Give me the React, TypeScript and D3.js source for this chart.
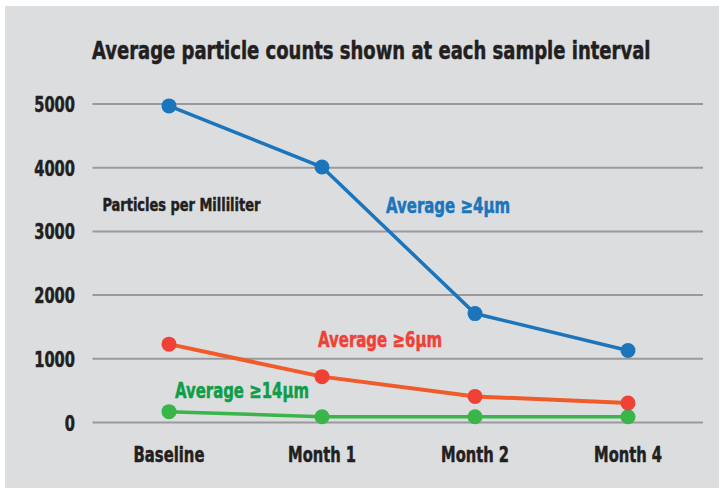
import React, { useEffect, useRef } from "react";
import { select, scalePoint, scaleLinear, line } from "d3";

const categories = ["Baseline", "Month 1", "Month 2", "Month 4"];
const avg4um = [4970, 4010, 1710, 1130];
const avg6um = [1230, 720, 410, 305];
const avg14um = [170, 90, 90, 90];
const yTicks = [0, 1000, 2000, 3000, 4000, 5000];

const W = 724;
const H = 493;
const FONT = "'DejaVu Sans Condensed', 'DejaVu Sans', sans-serif";
const INK = "#231f20";

function ParticleChart() {
  const svgRef = useRef<SVGSVGElement>(null);

  useEffect(() => {
    const root = select(svgRef.current);
    root.selectAll("*").remove();

    root
      .append("rect")
      .attr("x", 5)
      .attr("y", 6)
      .attr("width", 714)
      .attr("height", 482)
      .attr("fill", "#dcdddf");

    const x = scalePoint<string>().domain(categories).range([92.5, 704.5]).padding(0.5);
    const y = scaleLinear().domain([0, 5000]).range([422.5, 104]);

    // no condensed bold font installed: draw DejaVu Condensed and squeeze it
    // horizontally to the width the original text takes
    const label = (
      parent: any,
      str: string,
      px: number,
      py: number,
      size: number,
      len: number,
      color: string,
      anchor = "start"
    ) => {
      const t = parent
        .append("text")
        .attr("text-anchor", anchor)
        .attr("fill", color)
        .attr("stroke", color)
        .attr("stroke-width", 0.5)
        .style("font-family", FONT)
        .style("font-weight", "bold")
        .style("font-size", size + "px")
        .text(str);
      const natural = (t.node() as SVGTextElement).getComputedTextLength() || len;
      t.attr("transform", `translate(${px},${py}) scale(${len / natural},1)`);
      return t;
    };

    label(root, "Average particle counts shown at each sample interval", 92, 59, 25.5, 559, INK);

    // gridlines + y labels
    const grid = root.append("g");
    grid
      .selectAll("line")
      .data(yTicks)
      .join("line")
      .attr("x1", 92.5)
      .attr("x2", 703)
      .attr("y1", (d) => y(d))
      .attr("y2", (d) => y(d))
      .attr("stroke", "#9a9a9c")
      .attr("stroke-width", 2);
    yTicks.forEach((d) =>
      label(grid, String(d), 75, y(d) + 8, 21, String(d).length * 10.2, INK, "end")
    );

    // x labels
    const xg = root.append("g");
    categories.forEach((c) =>
      label(xg, c, x(c) as number, 462, 21.5, c === "Baseline" ? 71 : 68, INK, "middle")
    );

    label(root, "Particles per Milliliter", 102.5, 211, 17.5, 158, INK);

    const series = [
      { values: avg14um, line: "#39b54a", dot: "#39b54a", label: "Average ≥14μm", labelColor: "#0e9d48", lx: 175, ly: 398, len: 134, w: 3.5 },
      { values: avg6um, line: "#f15a29", dot: "#ef4136", label: "Average ≥6μm", labelColor: "#ef4136", lx: 318, ly: 347, len: 124, w: 4 },
      { values: avg4um, line: "#1b75bc", dot: "#1b75bc", label: "Average ≥4μm", labelColor: "#1b75bc", lx: 386, ly: 213, len: 124, w: 3.5 },
    ];

    const path = line<number>()
      .x((_, i) => x(categories[i]) as number)
      .y((d) => y(d));

    series.forEach((s) => {
      const g = root.append("g");
      g.append("path")
        .datum(s.values)
        .attr("fill", "none")
        .attr("stroke", s.line)
        .attr("stroke-width", s.w)
        .attr("d", path);
      g.selectAll("circle")
        .data(s.values)
        .join("circle")
        .attr("cx", (_, i) => x(categories[i]) as number)
        .attr("cy", (d) => y(d))
        .attr("r", 7.5)
        .attr("fill", s.dot);
      label(g, s.label, s.lx, s.ly, 21.5, s.len, s.labelColor);
    });
  }, []);

  return <svg width={W} height={H} ref={svgRef} style={{ display: "block" }}></svg>;
}

export default function App() {
  return (
    <div style={{ position: "fixed", left: 0, top: 0, width: W, height: H, background: "#fff" }}>
      <ParticleChart />
    </div>
  );
}
